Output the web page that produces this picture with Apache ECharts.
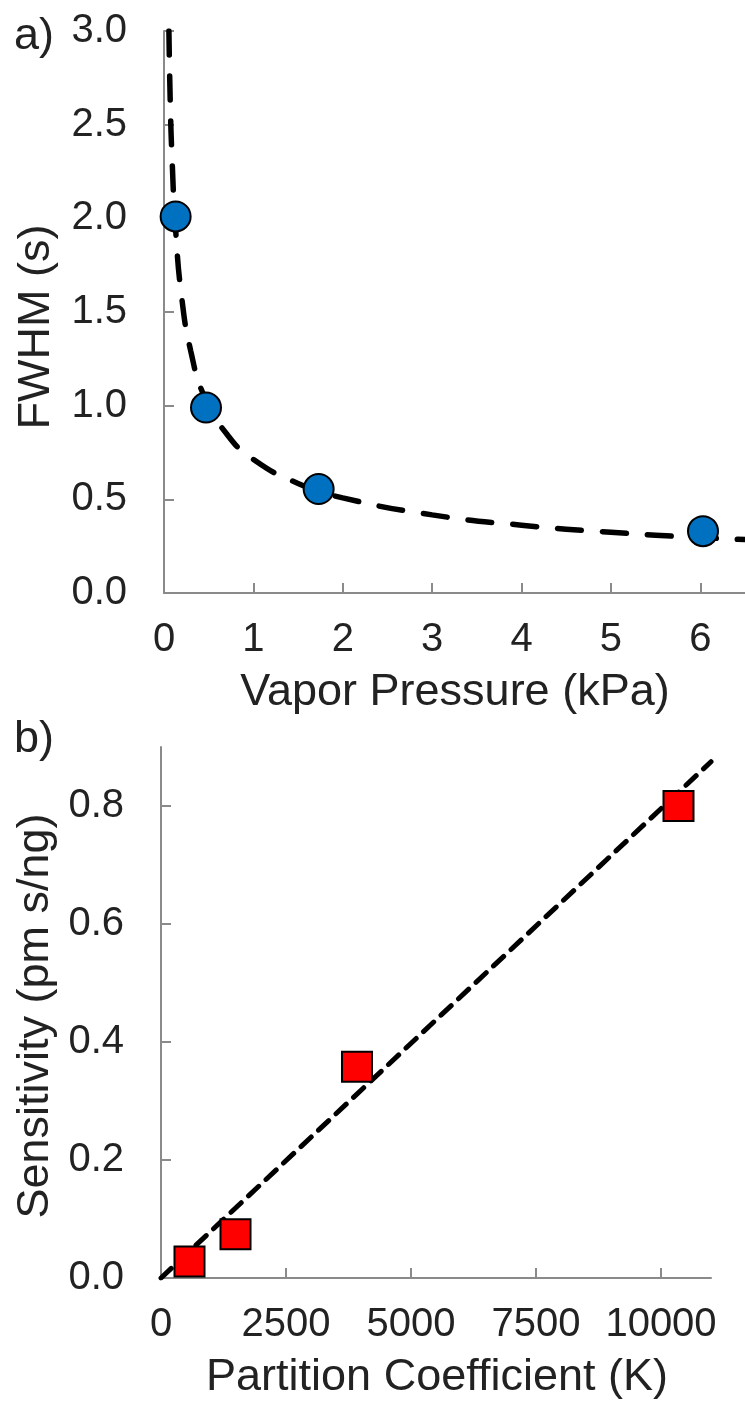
<!DOCTYPE html>
<html>
<head>
<meta charset="utf-8">
<script src="https://cdn.jsdelivr.net/npm/echarts@6/dist/echarts.min.js"></script>
<style>
html,body{margin:0;padding:0;background:#ffffff;}
#chart{width:745px;height:1412px;}
</style>
</head>
<body>
<div id="chart"></div>
<script>
// Panel a) data
const vaporPressure = [0.13, 0.47, 1.73, 6.03];
const fwhm = [2.01, 0.99, 0.555, 0.33];
const fitPressure = [0.055, 0.07, 0.09, 0.13, 0.2, 0.3, 0.45, 0.7, 1.0, 1.5, 2.0, 3.0, 4.0, 5.0, 6.0, 6.5];
const fitFwhm = [3.0, 2.62, 2.32, 1.94, 1.57, 1.29, 1.05, 0.85, 0.713, 0.585, 0.508, 0.417, 0.362, 0.324, 0.296, 0.285];
const xTicksA = [0, 1, 2, 3, 4, 5, 6];
const yTicksA = [0, 0.5, 1.0, 1.5, 2.0, 2.5, 3.0];

// Panel b) data
const partitionK = [570, 1490, 3920, 10350];
const sensitivity = [0.028, 0.074, 0.358, 0.80];
const fitK = [0, 11000];
const fitSens = [0, 0.875];
const xTicksB = [0, 2500, 5000, 7500, 10000];
const yTicksB = [0, 0.2, 0.4, 0.6, 0.8];

const FONT = "'Liberation Sans', Arial, Helvetica, sans-serif";
const AXIS_COLOR = '#8a8a8a';
const TEXT_COLOR = '#222222';

function xAxisCfg(gridIndex, max, ticks) {
  return {
    type: 'value', gridIndex: gridIndex, min: 0, max: max,
    splitLine: {show: false},
    axisLine: {show: true, onZero: false, lineStyle: {color: AXIS_COLOR, width: 2}},
    axisTick: {show: true, inside: true, length: 10, customValues: ticks, lineStyle: {color: AXIS_COLOR, width: 2}},
    axisLabel: {show: true, customValues: ticks, margin: 27, fontSize: 40, fontFamily: FONT, color: TEXT_COLOR,
      formatter: function (v) { return String(v); }}
  };
}
function yAxisCfg(gridIndex, max, ticks) {
  return {
    type: 'value', gridIndex: gridIndex, min: 0, max: max,
    splitLine: {show: false},
    axisLine: {show: true, onZero: false, lineStyle: {color: AXIS_COLOR, width: 2}},
    axisTick: {show: true, inside: true, length: 10, customValues: ticks, lineStyle: {color: AXIS_COLOR, width: 2}},
    axisLabel: {show: true, customValues: ticks, margin: 37, fontSize: 40, fontFamily: FONT, color: TEXT_COLOR,
      formatter: function (v) { return v.toFixed(1); }}
  };
}

const chart = echarts.init(document.getElementById('chart'), null, {renderer: 'canvas'});
chart.setOption({
  animation: false,
  backgroundColor: '#ffffff',
  grid: [
    {left: 164, top: 31, width: 583, height: 562},
    {left: 161, top: 747, width: 550, height: 531}
  ],
  xAxis: [xAxisCfg(0, 6.5, xTicksA), xAxisCfg(1, 11000, xTicksB)],
  yAxis: [yAxisCfg(0, 3.0, yTicksA), yAxisCfg(1, 0.9, yTicksB)],
  series: [
    {
      type: 'line', xAxisIndex: 0, yAxisIndex: 0, smooth: true, showSymbol: false, z: 2,
      data: fitPressure.map(function (x, i) { return [x, fitFwhm[i]]; }),
      lineStyle: {color: '#000000', width: 5.5, type: [24, 21], cap: 'round'}
    },
    {
      type: 'scatter', xAxisIndex: 0, yAxisIndex: 0, symbol: 'circle', symbolSize: 30, z: 5,
      data: vaporPressure.map(function (x, i) { return [x, fwhm[i]]; }),
      itemStyle: {color: '#0070C0', borderColor: '#000000', borderWidth: 2, opacity: 1}
    },
    {
      type: 'line', xAxisIndex: 1, yAxisIndex: 1, showSymbol: false, z: 2,
      data: fitK.map(function (x, i) { return [x, fitSens[i]]; }),
      lineStyle: {color: '#000000', width: 5, type: [14, 10], cap: 'round'}
    },
    {
      type: 'scatter', xAxisIndex: 1, yAxisIndex: 1, symbol: 'rect', symbolSize: 30, z: 5,
      data: partitionK.map(function (x, i) { return [x, sensitivity[i]]; }),
      itemStyle: {color: '#FF0000', borderColor: '#000000', borderWidth: 2, opacity: 1}
    }
  ],
  graphic: [
    {type: 'text', x: 14, y: 37, style: {text: 'a)', fontSize: 45, fontFamily: FONT, fill: TEXT_COLOR, align: 'left', verticalAlign: 'middle'}},
    {type: 'text', x: 14, y: 740, style: {text: 'b)', fontSize: 45, fontFamily: FONT, fill: TEXT_COLOR, align: 'left', verticalAlign: 'middle'}},
    {type: 'text', x: 37, y: 327, rotation: Math.PI / 2, style: {text: 'FWHM (s)', fontSize: 45, fontFamily: FONT, fill: TEXT_COLOR, align: 'center', verticalAlign: 'middle'}},
    {type: 'text', x: 455, y: 693, style: {text: 'Vapor Pressure (kPa)', fontSize: 45, fontFamily: FONT, fill: TEXT_COLOR, align: 'center', verticalAlign: 'middle'}},
    {type: 'text', x: 36, y: 1016, rotation: Math.PI / 2, style: {text: 'Sensitivity (pm s/ng)', fontSize: 45, fontFamily: FONT, fill: TEXT_COLOR, align: 'center', verticalAlign: 'middle'}},
    {type: 'text', x: 437, y: 1378, style: {text: 'Partition Coefficient (K)', fontSize: 45, fontFamily: FONT, fill: TEXT_COLOR, align: 'center', verticalAlign: 'middle'}}
  ]
});
</script>
</body>
</html>
